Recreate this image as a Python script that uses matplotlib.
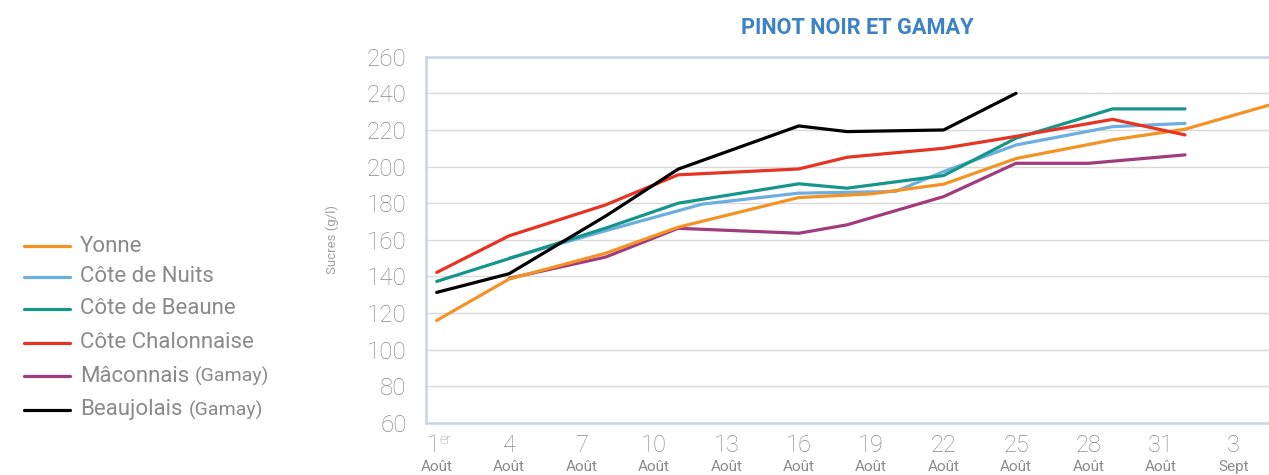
import matplotlib
matplotlib.use("Agg")
import matplotlib.pyplot as plt
from matplotlib.lines import Line2D
from matplotlib import transforms

plt.rcParams['font.family'] = ['Roboto', 'DejaVu Sans']

# ---------------- data ----------------
series_names = ["Yonne", "Côte de Nuits", "Côte de Beaune", "Côte Chalonnaise",
                "Mâconnais", "Beaujolais"]
series_suffix = ["", "", "", "", "(Gamay)", "(Gamay)"]
series_colors = ["#F39325", "#6CAEDF", "#16968A", "#E63323", "#A03C7D", "#000000"]

yonne_days = [1, 4, 8, 11, 16, 19, 22, 25, 29, 32, 36]
yonne_vals = [116, 138.6, 152.7, 166.9, 183.1, 185.1, 190.4, 204.4, 214.6, 220.4, 235.5]

nuits_days = [4, 8, 12, 16, 20, 22, 25, 29, 32]
nuits_vals = [150, 165, 179.5, 185.5, 186.4, 197.3, 211.8, 221.8, 223.6]

beaune_days = [1, 8, 11, 16, 18, 22, 25, 29, 32]
beaune_vals = [137.3, 166.4, 180, 190.6, 188.2, 195.1, 215.5, 231.5, 231.5]

chalon_days = [1, 4, 8, 11, 16, 18, 22, 25, 29, 32]
chalon_vals = [142.2, 162.2, 179.1, 195.5, 198.7, 205.1, 210, 216.5, 225.8, 217.3]

macon_days = [4, 8, 11, 16, 18, 22, 25, 28, 32]
macon_vals = [139, 150.6, 166.3, 163.6, 168.2, 183.6, 201.8, 201.8, 206.4]

beauj_days = [1, 4, 8, 11, 16, 18, 22, 25]
beauj_vals = [131.3, 141.5, 173, 198.6, 222.2, 219.1, 220, 240]

all_days = [yonne_days, nuits_days, beaune_days, chalon_days, macon_days, beauj_days]
all_vals = [yonne_vals, nuits_vals, beaune_vals, chalon_vals, macon_vals, beauj_vals]
zorders = [4, 3, 5, 6, 2, 7]

tick_days = [1, 4, 7, 10, 13, 16, 19, 22, 25, 28, 31, 34]
tick_nums = ["1", "4", "7", "10", "13", "16", "19", "22", "25", "28", "31", "3"]
tick_months = ["Août"] * 11 + ["Sept"]
y_ticks = list(range(60, 261, 20))

title = "PINOT NOIR ET GAMAY"
ylabel = "Sucres (g/l)"

# ---------------- figure ----------------
W, H = 1269, 475
fig = plt.figure(figsize=(W / 100, H / 100), dpi=100)
ax = fig.add_axes([426 / W, 1 - 423 / H, 1 - 426 / W, (423 - 56.7) / H])

grey = "#8A8A8A"
spine_col = "#C9D4E6"

for d, v, c, z in zip(all_days, all_vals, series_colors, zorders):
    ax.plot(d, v, color=c, lw=2.3, zorder=z, solid_capstyle='round',
            solid_joinstyle='round')

ax.set_xlim(0.557, 35.48)
ax.set_ylim(60, 260)
ax.set_yticks(y_ticks)
ax.set_yticklabels([str(v) for v in y_ticks])
ax.set_xticks(tick_days)
ax.set_xticklabels([])
ax.tick_params(axis='both', length=0)
ax.tick_params(axis='y', pad=14, labelsize=17.5, labelcolor=grey)
for lab in ax.get_yticklabels():
    lab.set_fontweight('light')
ax.grid(axis='y', color="#D9D9D9", lw=1.0, zorder=0)
ax.set_axisbelow(True)
ax.spines['right'].set_visible(False)
for s in ['left', 'bottom', 'top']:
    ax.spines[s].set_color(spine_col)
    ax.spines[s].set_linewidth(1.8)

# x tick labels (two lines)
tr = transforms.blended_transform_factory(ax.transData, fig.transFigure)
for d, n, m in zip(tick_days, tick_nums, tick_months):
    if n == "1":
        ax.text(d - 0.14, 1 - 446 / H, n, transform=tr, ha='center', va='center',
                fontsize=17, color=grey, fontweight='light')
        ax.text(d + 0.1, 1 - 440 / H, "er", transform=tr, ha='left', va='center',
                fontsize=10, color=grey, fontweight='light')
    else:
        ax.text(d, 1 - 446 / H, n, transform=tr, ha='center', va='center',
                fontsize=17, color=grey, fontweight='light')
    ax.text(d, 1 - 467 / H, m, transform=tr, ha='center', va='center',
            fontsize=11, color=grey)

ax.set_ylabel(ylabel, fontsize=9.5, color="#A0A0A0")
ax.yaxis.set_label_coords(-(426 - 339) / (W - 426), 0.5)

fig.text(857 / W, 1 - 28 / H, title, ha='center', va='center', fontsize=15.7,
         fontweight='bold', color="#3D82C4")

# legend (manual)
renderer = fig.canvas.get_renderer()
leg_y = [246, 277, 309, 343, 376, 410]
for name, suf, c, y in zip(series_names, series_suffix, series_colors, leg_y):
    fy = 1 - y / H
    fig.add_artist(Line2D([24 / W, 70 / W], [fy, fy], color=c, lw=2.3,
                          solid_capstyle='round'))
    t = fig.text(80 / W, fy, name, ha='left', va='center', fontsize=16,
                 color=grey)
    if suf:
        bb = t.get_window_extent(renderer=renderer)
        fig.text((bb.x1 + 6) / W, fy, suf, ha='left', va='center',
                 fontsize=14, color=grey)

fig.savefig("out.png", dpi=100)
